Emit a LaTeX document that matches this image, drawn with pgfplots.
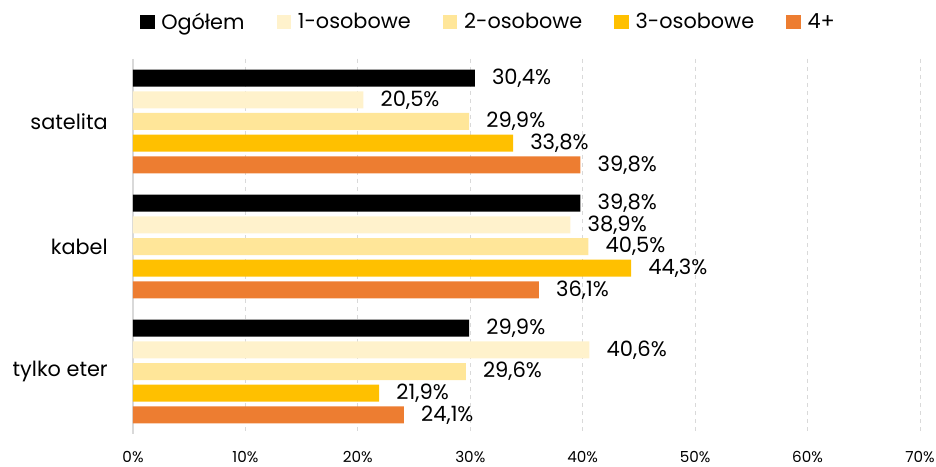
\documentclass[border=0pt]{standalone}
\usepackage{fontspec}
\setmainfont{Poppins}
\usepackage{pgfplots}
\usepackage{pgfplotstable}
\pgfplotsset{compat=1.18}
\definecolor{cOg}{HTML}{000000}
\definecolor{cOne}{HTML}{FFF2CC}
\definecolor{cTwo}{HTML}{FFE699}
\definecolor{cThree}{HTML}{FFC000}
\definecolor{cFour}{HTML}{ED7D31}
\definecolor{gridc}{HTML}{D9D9D9}
\pgfplotstableread{
cat og one two three four
0 30.4 20.5 29.9 33.8 39.8
1 39.8 38.9 40.5 44.3 36.1
2 29.9 40.6 29.6 21.9 24.1
}\data
\begin{document}
\begin{tikzpicture}
\path[use as bounding box] (-99.75pt,-24.75pt) rectangle (602.25pt,325.5pt);
\begin{axis}[
  at={(0,0)}, anchor=south west,
  scale only axis, width=590.25pt, height=281.25pt,
  xmin=0, xmax=70, ymin=-0.5, ymax=2.5, y dir=reverse,
  xbar, bar width=0.136,
  axis x line*=bottom, axis y line*=left,
  x axis line style={draw=none},
  y axis line style={draw=gridc, line width=1.5pt, -},
  xmajorgrids, grid style={dashed, gridc, line width=0.6pt},
  major tick length=0pt, tick style={draw=none},
  xtick={0,10,20,30,40,50,60,70},
  xticklabels={0\%,10\%,20\%,30\%,40\%,50\%,60\%,70\%},
  xticklabel style={font=\fontsize{11.4}{13}\selectfont, inner sep=0pt, anchor=north, yshift=-12.75pt},
  ytick={0,1,2},
  yticklabels={satelita,kabel,tylko eter},
  yticklabel style={font=\fontsize{15.6}{18}\selectfont, inner sep=0pt, anchor=east, xshift=-18.75pt},
  point meta=x,
  nodes near coords={\pgfmathprintnumber[fixed,fixed zerofill,precision=1,use comma,assume math mode=true]{\pgfplotspointmeta}\%},
  every node near coord/.append style={font=\fontsize{15.8}{18}\selectfont, anchor=west, inner sep=0pt, xshift=12.75pt, text=black},
  every axis plot post/.append style={legend image code/.code={\fill[##1] (0pt,-5.25pt) rectangle (11pt,5.25pt);}},
  legend columns=5,
  legend style={at={(0,1)}, anchor=west, xshift=5pt, yshift=27.75pt, draw=none, fill=none, inner sep=0pt,
    font=\fontsize{15.6}{18}\selectfont,
    nodes={inner sep=0pt},
    /tikz/every odd column/.style={column sep=5pt},
    /tikz/every even column/.style={column sep=24pt}},
  legend cell align=left,
]
\addplot[fill=cOg, draw=none, bar shift=-0.347] table[x=og, y=cat] {\data};
\addlegendentry{Ogółem}
\addplot[fill=cOne, draw=none, bar shift=-0.1736] table[x=one, y=cat] {\data};
\addlegendentry{1-osobowe}
\addplot[fill=cTwo, draw=none, bar shift=0] table[x=two, y=cat] {\data};
\addlegendentry{2-osobowe}
\addplot[fill=cThree, draw=none, bar shift=0.1736] table[x=three, y=cat] {\data};
\addlegendentry{3-osobowe}
\addplot[fill=cFour, draw=none, bar shift=0.347] table[x=four, y=cat] {\data};
\addlegendentry{4+}
\end{axis}
\end{tikzpicture}
\end{document}
